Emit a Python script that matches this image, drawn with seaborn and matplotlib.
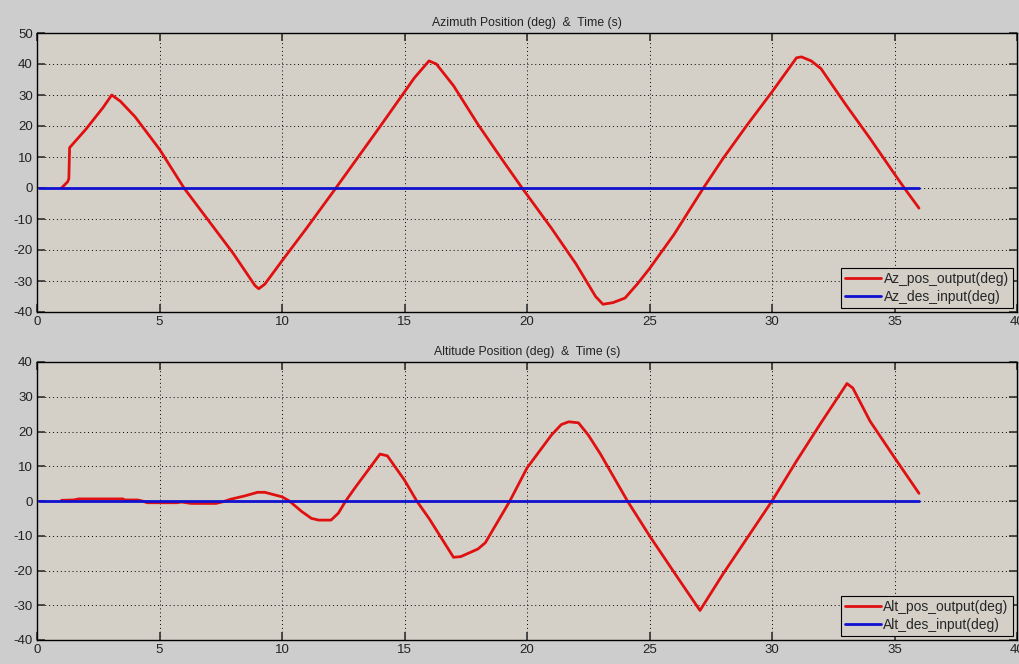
import matplotlib
matplotlib.use("Agg")
import matplotlib.pyplot as plt
import numpy as np
import pandas as pd
import seaborn as sns

# Azimuth response (deg) vs time (s)
az_t = [1.0, 1.25, 1.3, 1.33, 2.0, 2.7, 3.05, 3.4, 4.0, 5.0, 6.0, 7.0, 8.0, 8.9, 9.05,
        9.3, 10.0, 11.0, 12.2, 13.0, 14.0, 15.0, 15.4, 16.0, 16.3, 17.0, 18.0, 19.0,
        19.8, 21.0, 22.0, 22.8, 23.1, 23.5, 24.0, 24.5, 25.0, 26.0, 27.2, 28.0, 29.0,
        30.0, 31.0, 31.2, 31.6, 32.0, 33.0, 34.0, 35.0, 35.4, 36.0]
az_pos = [0.0, 2.0, 3.0, 13.0, 19.0, 26.0, 30.0, 28.0, 23.0, 12.5, 0.0, -10.5, -21.0,
          -31.5, -32.5, -31.0, -23.5, -13.0, 0.0, 8.8, 19.8, 31.0, 35.5, 41.0, 40.0,
          33.0, 20.5, 9.0, 0.0, -13.0, -24.5, -35.0, -37.5, -37.0, -35.5, -31.0, -26.0,
          -15.0, 0.0, 9.5, 20.5, 31.0, 42.0, 42.3, 41.0, 38.5, 27.0, 16.0, 4.5, 0.0, -6.5]
az_des_t = [0.1, 36.0]
az_des = [0.0, 0.0]

# Altitude response (deg) vs time (s)
alt_t = [1.0, 1.5, 1.7, 3.5, 3.6, 4.1, 4.3, 4.5, 5.7, 5.9, 6.3, 7.3, 7.6, 7.9, 8.5, 9.0,
         9.3, 10.0, 10.3, 10.8, 11.2, 11.5, 12.0, 12.3, 12.6, 13.0, 14.0, 14.3, 15.0,
         15.5, 16.0, 17.0, 17.3, 18.0, 18.3, 19.3, 20.0, 21.0, 21.4, 21.7, 22.1, 22.5,
         23.0, 24.1, 25.0, 26.0, 27.06, 28.0, 29.0, 30.0, 31.0, 32.0, 33.06, 33.3,
         34.0, 35.0, 36.0]
alt_pos = [0.2, 0.3, 0.6, 0.6, 0.3, 0.3, 0.0, -0.5, -0.5, -0.3, -0.7, -0.7, -0.2, 0.5,
           1.5, 2.5, 2.5, 1.2, 0.0, -3.0, -5.0, -5.5, -5.5, -3.5, 0.0, 4.0, 13.5, 13.0,
           6.0, 0.0, -5.0, -16.2, -16.0, -13.8, -12.0, 0.0, 9.5, 19.0, 22.0, 22.8, 22.5,
           19.0, 13.5, 0.0, -10.0, -20.5, -31.5, -21.0, -10.5, 0.0, 11.5, 22.5, 33.8,
           32.5, 23.0, 12.5, 2.2]
alt_des_t = [0.1, 36.0]
alt_des = [0.0, 0.0]

x_ticks = [0, 5, 10, 15, 20, 25, 30, 35, 40]
az_yticks = [-40, -30, -20, -10, 0, 10, 20, 30, 40, 50]
alt_yticks = [-40, -30, -20, -10, 0, 10, 20, 30, 40]

FIG_BG = "#cdcdcd"
AX_BG = "#d4d0c8"
RED = "#e01010"
BLUE = "#1010d0"

sns.set_style("ticks")
plt.rcParams["font.family"] = ["Liberation Sans", "DejaVu Sans"]
plt.rcParams["axes.unicode_minus"] = False

fig = plt.figure(figsize=(10.19, 6.64), dpi=100, facecolor=FIG_BG)
W, H = 1019.0, 664.0
ax_top = fig.add_axes([37 / W, 1 - 312 / H, (1017 - 37) / W, (312 - 33) / H])
ax_bot = fig.add_axes([37 / W, 1 - 640 / H, (1017 - 37) / W, (640 - 362) / H])


def draw_panel(ax, t, pos, dt, des, yticks, ylim, title, lab_out, lab_in):
    df_out = pd.DataFrame({"t": t, "v": pos})
    df_in = pd.DataFrame({"t": dt, "v": des})
    sns.lineplot(data=df_out, x="t", y="v", ax=ax, color=RED, lw=2.0,
                 label=lab_out, sort=False, zorder=3)
    sns.lineplot(data=df_in, x="t", y="v", ax=ax, color=BLUE, lw=2.0,
                 label=lab_in, sort=False, zorder=3)
    ax.set_facecolor(AX_BG)
    ax.set_xlim(0, 40)
    ax.set_ylim(*ylim)
    ax.set_xticks(x_ticks)
    ax.set_yticks(yticks)
    ax.set_xlabel("")
    ax.set_ylabel("")
    ax.grid(True, color="black", linestyle=(0, (1, 3)), linewidth=0.7)
    ax.set_axisbelow(True)
    ax.tick_params(direction="in", length=6, width=1.2, color="#333333",
                   top=True, right=True, labelsize=9.5, labelcolor="#222222", pad=3)
    for s in ax.spines.values():
        s.set_visible(True)
        s.set_color("black")
        s.set_linewidth(1.0)
    ax.set_title(title, fontsize=8.8, color="#222222", pad=5)
    leg = ax.legend(loc="lower right", fontsize=10, frameon=True, fancybox=False,
                    borderaxespad=0.3, handlelength=2.6, handletextpad=0.15,
                    borderpad=0.3, labelspacing=0.25)
    leg.get_frame().set_facecolor(AX_BG)
    leg.get_frame().set_edgecolor("black")
    leg.get_frame().set_alpha(1.0)
    leg.get_frame().set_linewidth(0.8)


draw_panel(ax_top, az_t, az_pos, az_des_t, az_des, az_yticks, (-40, 50),
           "Azimuth Position (deg)  &  Time (s)",
           "Az_pos_output(deg)", "Az_des_input(deg)")
draw_panel(ax_bot, alt_t, alt_pos, alt_des_t, alt_des, alt_yticks, (-40, 40),
           "Altitude Position (deg)  &  Time (s)",
           "Alt_pos_output(deg)", "Alt_des_input(deg)")

fig.savefig("out.png", dpi=100, facecolor=FIG_BG)
